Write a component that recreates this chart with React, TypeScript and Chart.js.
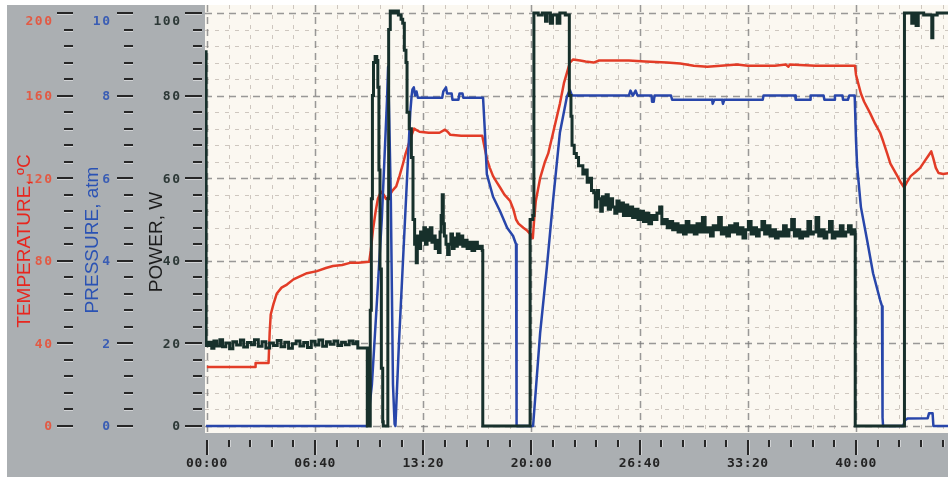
import React, { useEffect, useRef } from "react";
import { Chart, registerables } from "chart.js";

Chart.register(...registerables);

// ---- axis ticks / labels ----
const timeTicks = [0, 400, 800, 1200, 1600, 2000, 2400];
const timeTickLabels = ["00:00", "06:40", "13:20", "20:00", "26:40", "33:20", "40:00"];
const tempTicks = [0, 40, 80, 120, 160, 200];
const pressTicks = [0, 2, 4, 6, 8, 10];
const powerTicks = [0, 20, 40, 60, 80, 100];

// ---- POWER, W (time in seconds) ----
const powerT = [
  -3, -3, 8, 18, 26, 36, 48, 58, 70, 84, 96, 110, 124, 136, 150, 164, 176, 190, 204, 218, 232, 246, 260, 274,
  288, 302, 316, 330, 344, 358, 372, 386, 400, 414, 428, 442, 456, 470, 484, 498, 512, 526, 540, 552, 558, 575,
  590, 593, 600, 604, 608, 612, 616, 622, 628, 632, 636, 640, 645, 650, 652, 666, 669, 672, 678, 688, 698, 708,
  718, 724, 730, 736, 740, 748, 756, 762, 768, 774, 778, 784, 790, 796, 802, 808, 814, 820, 826, 832, 838, 844,
  850, 856, 862, 866, 870, 874, 878, 884, 890, 896, 902, 908, 914, 920, 926, 932, 940, 946, 954, 962, 970, 980,
  990, 1000, 1010, 1018, 1020, 1193, 1195, 1205, 1209, 1225, 1240, 1252, 1258, 1270, 1278, 1295, 1305, 1325,
  1336, 1340, 1346, 1350, 1358, 1366, 1374, 1382, 1390, 1398, 1406, 1414, 1422, 1430, 1436, 1442, 1448, 1456,
  1462, 1470, 1476, 1484, 1492, 1500, 1508, 1516, 1524, 1532, 1540, 1548, 1556, 1564, 1574, 1584, 1594, 1604,
  1614, 1624, 1634, 1644, 1654, 1664, 1674, 1682, 1692, 1702, 1712, 1722, 1732, 1742, 1752, 1762, 1772, 1782,
  1792, 1802, 1812, 1822, 1832, 1842, 1852, 1862, 1872, 1882, 1892, 1902, 1912, 1922, 1932, 1942, 1952, 1962,
  1972, 1982, 1992, 2002, 2012, 2022, 2032, 2042, 2052, 2062, 2072, 2082, 2092, 2102, 2112, 2122, 2132, 2142,
  2152, 2162, 2172, 2182, 2192, 2202, 2212, 2222, 2232, 2242, 2252, 2262, 2272, 2282, 2292, 2302, 2312, 2322,
  2332, 2342, 2352, 2362, 2372, 2382, 2392, 2396, 2397, 2577, 2579, 2600, 2606, 2612, 2622, 2630, 2650, 2676,
  2680, 2684, 2700, 2744,
];
const powerW = [
  91, 19.5, 20.3, 18.8, 20.6, 19.4, 20.9, 19.2, 20.1, 18.7, 20.4, 19.6, 20.8, 19.1, 20.2, 19.7, 20.9, 19.3, 20.4,
  18.9, 20.1, 19.5, 20.7, 19.2, 20.3, 18.8, 19.9, 20.6, 19.4, 20.2, 19.0, 20.5, 19.6, 20.8, 19.3, 20.4, 19.8,
  20.6, 19.5, 20.3, 19.7, 20.6, 19.9, 20.4, 18.9, 18.9, 18.9, 0, 0, 28, 55, 80, 88, 89.5, 88.5, 82, 62, 38, 14,
  1, 0, 0, 55, 96, 100.5, 100, 100.5, 99.5, 98.5, 97.5, 91, 88, 76, 72, 65, 50, 44, 39.5, 46, 43, 47, 45, 48,
  44, 47.5, 45, 48, 44.5, 46, 43, 45, 42, 47, 51, 56, 49, 46, 44, 41.5, 44, 46.5, 43, 45.5, 43.5, 46.5, 44, 46,
  43.5, 45, 43, 44.5, 42.5, 44.5, 43, 43.5, 42.5, 0, 0, 50, 51, 100, 99.5, 100, 98, 100, 97.5, 99.5, 97.5, 100,
  99.5, 99.5, 80, 75, 68, 66, 65, 63, 63, 61, 62, 59, 60, 57, 56.5, 53, 57, 55, 52, 55.5, 53.5, 56, 52.5, 55,
  53, 51.5, 54.5, 52, 54, 51, 53.5, 51, 53, 50.5, 52.5, 50, 52, 49.5, 51.5, 49, 51, 50, 51.5, 53, 49, 50, 48,
  49.5, 47.5, 49, 47, 48.5, 46.5, 49.5, 47, 48.5, 46.5, 49, 47, 50.5, 47, 48, 46, 48.5, 47.5, 50.5, 46.5, 48,
  46, 48.5, 47, 49, 46.5, 48, 45.5, 47.5, 49.5, 46.5, 48, 46, 47.5, 49.5, 46.5, 48.5, 46, 47.5, 45.5, 47, 46,
  48.5, 46, 47.5, 50, 46, 47.5, 45.5, 47, 46, 49.5, 46.5, 47, 50.5, 46, 47.5, 45.5, 47, 49.5, 45.5, 47, 46,
  48.5, 46, 47, 48.5, 46.5, 47.5, 47, 0, 0, 100, 100, 97.5, 100, 97, 100, 99.5, 99.5, 94, 99.5, 100, 100,
];

// ---- TEMPERATURE, ºC ----
const tempT = [
  0, 178, 180, 228, 232, 236, 246, 258, 276, 296, 320, 344, 370, 407, 440, 466, 500, 529, 560, 600, 606, 614, 624,
  632, 644, 654, 662, 672, 686, 700, 712, 725, 735, 743, 752, 760, 766, 772, 786, 820, 860, 880, 890, 900, 940,
  980, 1018, 1028, 1036, 1046, 1058, 1072, 1084, 1100, 1121, 1133, 1143, 1152, 1170, 1185, 1195, 1205, 1210,
  1216, 1232, 1250, 1262, 1280, 1305, 1320, 1331, 1342, 1354, 1380, 1400, 1430, 1450, 1500, 1560, 1620, 1700,
  1750, 1800, 1850, 1900, 1960, 2000, 2100, 2140, 2150, 2155, 2250, 2396, 2400, 2408, 2418, 2430, 2452, 2470,
  2489, 2500, 2515, 2527, 2540, 2555, 2565, 2578, 2590, 2602, 2620, 2637, 2655, 2668, 2678, 2686, 2695, 2705,
  2722, 2744,
];
const tempC = [
  28.6, 28.6, 30.5, 30.5, 45, 54, 59, 64, 67, 68.5, 71, 72.5, 74, 75, 76.5, 77.5, 78, 79, 79, 79.5, 85, 95, 104,
  110, 113.5, 112, 110, 111, 114, 116, 121, 127, 132, 135, 139, 142, 144, 143.5, 142.5, 142, 142, 143.5, 142.5,
  141, 140.5, 140.5, 140.5, 134, 129, 125, 121, 118, 115.5, 112, 109, 105, 100, 98, 96, 94.5, 93, 91, 100, 109,
  120, 128, 132, 142, 156, 166, 171, 176, 177.5, 177, 176.5, 176, 177, 177, 177, 176.5, 176, 175.5, 174.5, 174,
  174.5, 175, 174.5, 174.5, 175, 174, 175, 174.5, 174.5, 170, 166, 161, 157, 151.5, 146.5, 142, 138, 132, 127,
  124, 120.5, 118, 115.5, 118.5, 121, 123, 125, 128.5, 131, 133, 129.5, 125, 122.5, 122, 122.5,
];

// ---- PRESSURE, atm ----
const pressT = [
  -3, 595, 600, 610, 629, 647, 660, 666, 670, 674, 680, 688, 694, 697, 710, 725, 740, 752, 757, 760, 765, 770,
  775, 780, 870, 874, 884, 888, 905, 908, 930, 934, 945, 948, 1021, 1028, 1035, 1058, 1084, 1110, 1132, 1143,
  1145, 1206, 1232, 1257, 1280, 1305, 1331, 1342, 1350, 1560, 1566, 1575, 1585, 1592, 1644, 1646, 1652, 1655,
  1716, 1720, 1868, 1870, 1876, 1905, 1908, 1913, 2055, 2058, 2175, 2177, 2230, 2232, 2280, 2283, 2320, 2322,
  2350, 2352, 2370, 2375, 2395, 2400, 2404, 2418, 2441, 2463, 2489, 2496, 2498, 2500, 2574, 2582, 2590, 2665,
  2670, 2683, 2686, 2744,
];
const pressAtm = [
  0, 0, 0.4, 1.0, 3.05, 5.05, 7.0, 7.9, 8.7, 7.5, 5.5, 1.0, 0.05, 0, 2.0, 4.0, 6.0, 7.6, 8.0, 8.15, 8.2, 8.0,
  8.1, 7.95, 7.95, 8.1, 8.2, 8.05, 8.05, 7.9, 7.9, 8.05, 8.05, 7.95, 7.95, 7.1, 6.1, 5.55, 5.2, 4.8, 4.6, 4.4,
  0, 0, 2.25, 3.85, 5.47, 7.1, 7.97, 8.14, 8.0, 8.0, 8.12, 8.0, 8.12, 8.0, 8.0, 7.85, 7.85, 8.0, 8.0, 7.9, 7.9,
  7.8, 7.9, 7.9, 7.8, 7.9, 7.9, 8.0, 8.0, 7.9, 7.9, 8.0, 8.0, 7.9, 7.9, 8.0, 8.0, 7.9, 7.9, 8.0, 8.0, 6.9, 6.3,
  5.3, 4.5, 3.7, 3.05, 2.9, 0.2, 0, 0, 0.15, 0.18, 0.19, 0.31, 0.31, 0, 0,
];

const toXY = (ts: number[], vs: number[]) => ts.map((t, i) => ({ x: t, y: vs[i] }));

function drawYAxis(
  ctx: CanvasRenderingContext2D,
  scale: any,
  ticks: number[],
  labelRight: number,
  majorX1: number,
  minorX1: number,
  x2: number,
  color: string
) {
  const maxV = ticks[ticks.length - 1];
  const step = (ticks[1] - ticks[0]) / 5;
  const n = Math.round(maxV / step);
  for (let i = 0; i <= n; i++) {
    const v = i * step;
    const y = Math.round(scale.getPixelForValue(v));
    const major = i % 5 === 0;
    const x1 = major ? majorX1 : minorX1;
    ctx.fillStyle = "rgba(255,255,255,0.45)";
    ctx.fillRect(x1, y + 1, x2 - x1, 1);
    ctx.fillStyle = "#262626";
    ctx.fillRect(x1, y - 1, x2 - x1, 2);
  }
  ctx.font = "bold 13px 'DejaVu Sans Mono', monospace";
  (ctx as any).letterSpacing = "1.5px";
  ctx.textAlign = "right";
  ctx.textBaseline = "middle";
  ctx.fillStyle = color;
  ticks.forEach((v, i) => {
    let y = scale.getPixelForValue(v);
    if (i === ticks.length - 1) y += 8;
    ctx.fillText(String(v), labelRight + 1.5, y + 1);
  });
  (ctx as any).letterSpacing = "0px";
}

function drawTitle(ctx: CanvasRenderingContext2D, text: string, x: number, y: number, color: string) {
  ctx.save();
  ctx.translate(x, y);
  ctx.rotate(-Math.PI / 2);
  ctx.font = "19px 'Liberation Sans', Arial, sans-serif";
  ctx.textAlign = "center";
  ctx.textBaseline = "alphabetic";
  ctx.fillStyle = color;
  ctx.fillText(text, 0, 0);
  ctx.restore();
}

const panelPlugin = {
  id: "panel",
  beforeDraw(chart: any) {
    const { ctx, chartArea: ca, width, height } = chart;
    const xs = chart.scales.x;
    const yp = chart.scales.power;
    ctx.save();
    ctx.fillStyle = "#ffffff";
    ctx.fillRect(0, 0, width, height);
    ctx.fillStyle = "#abafb2";
    ctx.fillRect(7, 5, width - 7, height - 5);
    ctx.fillStyle = "#fbf8f1";
    ctx.fillRect(ca.left, ca.top, ca.right - ca.left, ca.bottom - ca.top);

    // grid
    ctx.beginPath();
    ctx.rect(ca.left, ca.top, ca.right - ca.left, ca.bottom - ca.top);
    ctx.clip();
    for (let v = 0; v <= 100; v += 4) {
      const y = Math.round(yp.getPixelForValue(v)) + 0.5;
      const major = v % 20 === 0;
      ctx.setLineDash(major ? [7, 5] : [4, 6]);
      ctx.strokeStyle = major ? "rgba(120,120,120,0.75)" : "rgba(150,140,130,0.45)";
      ctx.lineWidth = major ? 1.5 : 1;
      ctx.beginPath();
      ctx.moveTo(ca.left, y);
      ctx.lineTo(ca.right, y);
      ctx.stroke();
    }
    for (let t = 0; t <= 2740; t += 80) {
      const x = Math.round(xs.getPixelForValue(t)) + 0.5;
      const major = t % 400 === 0;
      ctx.setLineDash(major ? [7, 5] : [4, 6]);
      ctx.strokeStyle = major ? "rgba(120,120,120,0.75)" : "rgba(150,140,130,0.45)";
      ctx.lineWidth = major ? 1.5 : 1;
      ctx.beginPath();
      ctx.moveTo(x, ca.top);
      ctx.lineTo(x, ca.bottom);
      ctx.stroke();
    }
    ctx.restore();

    // left axes
    ctx.save();
    drawYAxis(ctx, chart.scales.temp, tempTicks, 52, 57, 64, 73, "#e25a44");
    drawYAxis(ctx, chart.scales.press, pressTicks, 110, 117, 124, 133, "#3a5db4");
    drawYAxis(ctx, chart.scales.power, powerTicks, 180, 185, 193, 202, "#2c3836");
    drawTitle(ctx, "TEMPERATURE, ºC", 30, 241, "#e8261e");
    drawTitle(ctx, "PRESSURE, atm", 98, 240, "#2a52b4");
    drawTitle(ctx, "POWER, W", 162, 242, "#1c1c1c");

    // bottom axis
    for (let t = 0; t <= 2740; t += 80) {
      const x = Math.round(xs.getPixelForValue(t));
      const major = t % 400 === 0;
      ctx.fillStyle = "rgba(255,255,255,0.45)";
      ctx.fillRect(x + 1, 440, 1, major ? 15 : 7);
      ctx.fillStyle = "#262626";
      ctx.fillRect(x - 1, 440, 2, major ? 15 : 7);
    }
    ctx.font = "bold 13px 'DejaVu Sans Mono', monospace";
    (ctx as any).letterSpacing = "0.5px";
    ctx.textAlign = "center";
    ctx.textBaseline = "middle";
    ctx.fillStyle = "#232323";
    timeTicks.forEach((t, i) => {
      ctx.fillText(timeTickLabels[i], xs.getPixelForValue(t), 464);
    });
    (ctx as any).letterSpacing = "0px";
    ctx.restore();
  },
};

export default function App() {
  const ref = useRef<HTMLCanvasElement>(null);
  useEffect(() => {
    if (!ref.current) return;
    const chart = new Chart(ref.current, {
      type: "line",
      data: {
        datasets: [
          {
            label: "POWER, W",
            data: toXY(powerT, powerW),
            yAxisID: "power",
            borderColor: "#17302b",
            borderWidth: 3,
            pointRadius: 0,
            stepped: true,
            borderJoinStyle: "miter",
            order: 0,
          },
          {
            label: "PRESSURE, atm",
            data: toXY(pressT, pressAtm),
            yAxisID: "press",
            borderColor: "#2846aa",
            borderWidth: 2.5,
            pointRadius: 0,
            borderJoinStyle: "round",
            order: 1,
          },
          {
            label: "TEMPERATURE, ºC",
            data: toXY(tempT, tempC),
            yAxisID: "temp",
            borderColor: "#e23c27",
            borderWidth: 2.5,
            pointRadius: 0,
            borderJoinStyle: "round",
            order: 2,
          },
        ],
      },
      options: {
        animation: false,
        responsive: false,
        events: [],
        layout: { padding: { left: 205, top: 5, right: 0, bottom: 44 } },
        plugins: { legend: { display: false }, tooltip: { enabled: false } },
        scales: {
          x: { type: "linear", min: -7, max: 2740, display: false },
          power: { type: "linear", position: "left", min: -1.695, max: 101.94, display: false },
          temp: { type: "linear", position: "left", min: -3.39, max: 203.87, display: false },
          press: { type: "linear", position: "left", min: -0.1695, max: 10.194, display: false },
        },
      },
      plugins: [panelPlugin],
    } as any);
    return () => chart.destroy();
  }, []);
  return (
    <div style={{ position: "absolute", left: 0, top: 0, width: 948, height: 477 }}>
      <canvas ref={ref} width={948} height={477} style={{ display: "block" }} />
    </div>
  );
}
